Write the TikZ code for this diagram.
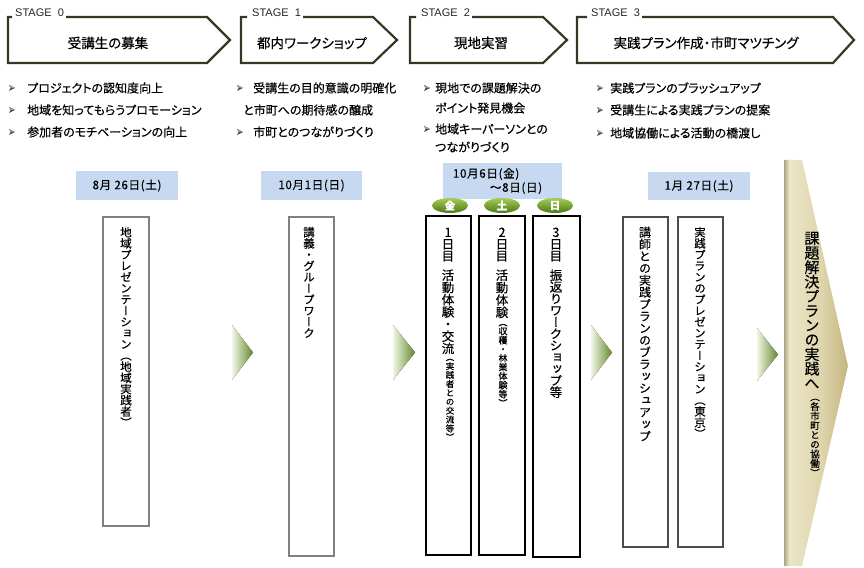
\documentclass[tikz,border=0pt]{standalone}
\usepackage{fontspec}
\usepackage{graphicx}
\setmainfont{Noto Sans CJK JP}[Script=CJK,RawFeature=+palt,FakeBold=0.4]
\newfontfamily\vjp{Noto Sans CJK JP}[Script=CJK,RawFeature=+vert,FakeBold=0.4]
\newfontfamily\arialf{Liberation Sans}
\usetikzlibrary{shapes.geometric}
\definecolor{bannercol}{RGB}{58,54,38}
\definecolor{datecol}{RGB}{198,217,241}
\definecolor{grayline}{RGB}{128,128,128}
\definecolor{chevL}{RGB}{242,246,230}
\definecolor{chevR}{RGB}{100,136,44}
\definecolor{ovalT}{RGB}{165,204,85}
\definecolor{ovalB}{RGB}{78,122,22}
\definecolor{gL}{RGB}{170,163,135}
\definecolor{gM}{RGB}{236,230,200}
\definecolor{gR1}{RGB}{222,212,172}
\definecolor{gR}{RGB}{196,180,125}
\pgfdeclarehorizontalshading{goldsh}{100bp}{color(0bp)=(gL); color(25bp)=(gL); color(29bp)=(gM); color(55bp)=(gR1); color(75bp)=(gR); color(100bp)=(gR)}
\ExplSyntaxOn
\NewDocumentCommand\vchars{m}{
  \tl_map_inline:nn {#1} { \hbox_to_wd:nn {1.2em} { \hfil \vrule ~ width ~ 0pt ~ height ~ .88em ~ depth ~ .12em \relax ##1 \hfil } }
}
\ExplSyntaxOff
\newcommand\vt[3]{\vbox{\vjp\fontsize{#1}{#2}\selectfont\lineskiplimit=-100pt\relax\vchars{#3}}}
\begin{document}
\begin{tikzpicture}[x=1bp,y=-1bp,
  banner/.style={draw=bannercol, line width=2.2bp, line join=miter},
  stagelbl/.style={font=\arialf\fontsize{11bp}{12bp}\selectfont, inner xsep=2bp, inner ysep=0pt, anchor=west, text=black!85},
  stitle/.style={font=\fontsize{13.5bp}{15bp}\selectfont, inner sep=0},
  bul/.style={font=\fontsize{12bp}{14bp}\selectfont, anchor=west, inner sep=0},
  bulpic/.pic={\fill[black!70] (0,-3) -- (6,0) -- (0,3) -- (1.6,0) -- cycle;
               \fill[black!40] (0,-3) -- (6,0) -- (1.6,0) -- cycle;},
  datebox/.style={fill=datecol, inner sep=0, minimum height=29bp, font=\fontsize{11.5bp}{14bp}\selectfont\addfontfeatures{LetterSpace=6}},
  dayoval/.style={ellipse, minimum width=36bp, minimum height=15bp, inner sep=0, top color=ovalT, bottom color=ovalB, text=white, font=\bfseries\fontsize{10.5bp}{11bp}\selectfont},
  gbox/.style={draw=grayline, line width=1.3bp, inner sep=0},
  kbox/.style={draw=black, line width=1.8bp, inner sep=0},
  vtxt/.style={anchor=north, inner sep=0},
  chev/.style={left color=chevL, right color=chevR}
]
\useasboundingbox (0,0) rectangle (864,568);

% ---- stage banners ----
\node[stagelbl] (lbl0) at (13,12.5) {STAGE\ \ 0};
\draw[banner] (12,17) -- (8,17) -- (8,63) -- (207,63) -- (230,40) -- (207,17) -- (lbl0.east |- 0,17);
\node[stitle] (t0) at (108,43) {受講生の募集};

\node[stagelbl] (lbl1) at (250,12.5) {STAGE\ \ 1};
\draw[banner] (247,17) -- (241,17) -- (241,63) -- (373,63) -- (397,40) -- (373,17) -- (lbl1.east |- 0,17);
\node[stitle] (t1) at (312,43) {都内ワークショップ};

\node[stagelbl] (lbl2) at (419,12.5) {STAGE\ \ 2};
\draw[banner] (416,17) -- (410,17) -- (410,63) -- (543,63) -- (567,40) -- (543,17) -- (lbl2.east |- 0,17);
\node[stitle] (t2) at (481,43) {現地実習};

\node[stagelbl] (lbl3) at (589,12.5) {STAGE\ \ 3};
\draw[banner] (587,17) -- (577,17) -- (577,63) -- (833,63) -- (854,40) -- (833,17) -- (lbl3.east |- 0,17);
\node[stitle] (t3) at (706,43) {実践プラン作成・市町マツチング};

% ---- bullets ----
\pic at (9,88) {bulpic};
\node[bul] (b01) at (27,88) {プロジェクトの認知度向上};
\pic at (9,110) {bulpic};
\node[bul] (b02) at (27,110) {地域を知ってもらうプロモーション};
\pic at (9,132) {bulpic};
\node[bul] (b03) at (27,132) {参加者のモチベーションの向上};

\pic at (237,88) {bulpic};
\node[bul] (b11) at (253,88) {受講生の目的意識の明確化};
\node[bul] (b12) at (243,110) {と市町への期待感の醸成};
\pic at (237,132) {bulpic};
\node[bul] (b13) at (253,132) {市町とのつながりづくり};

\pic at (424,88) {bulpic};
\node[bul] (b21) at (435,88) {現地での課題解決の};
\node[bul] (b22) at (435,108) {ポイント発見機会};
\pic at (424,129) {bulpic};
\node[bul] (b23) at (435,129) {地域キーパーソンとの};
\node[bul] (b24) at (435,147) {つながりづくり};

\pic at (597,88) {bulpic};
\node[bul] (b31) at (610,88) {実践プランのブラッシュアップ};
\pic at (597,110) {bulpic};
\node[bul] (b32) at (610,110) {受講生による実践プランの提案};
\pic at (597,133) {bulpic};
\node[bul] (b33) at (610,133) {地域協働による活動の橋渡し};

% ---- dates ----
\node[datebox, minimum width=102bp] (d0) at (127,185.5) {8月 26日(土)};
\node[datebox, minimum width=101bp] (d1) at (311.5,185.5) {10月1日(日)};
\node[datebox, minimum width=119bp, minimum height=36bp, text width=99bp, align=left] (d2) at (502.5,181) {10月6日(金)\\\hspace*{37bp}～8日(日)};
\node[datebox, minimum width=102bp, minimum height=28bp] (d3) at (699,186) {1月 27日(土)};

% ---- day ovals ----
\node[dayoval] (o1) at (450,205.5) {金};
\node[dayoval] (o2) at (502,205.5) {土};
\node[dayoval] (o3) at (555,205.5) {日};

% ---- vertical boxes ----
\node[gbox, minimum width=46bp, minimum height=309bp] (bA) at (126,371.5) {};
\node[gbox, minimum width=45bp, minimum height=339bp] (bB) at (311.5,386.5) {};
\node[kbox, minimum width=45bp, minimum height=339bp] (bC) at (448.5,385.5) {};
\node[kbox, minimum width=46bp, minimum height=339bp] (bD) at (502,385.5) {};
\node[kbox, minimum width=47bp, minimum height=341bp] (bE) at (556.5,386.5) {};
\node[gbox, draw=black!70, minimum width=45bp, minimum height=330bp] (bF) at (645.5,382) {};
\node[gbox, draw=black!70, minimum width=45bp, minimum height=330bp] (bG) at (700.5,382) {};

\node[vtxt] (tA) at (126,226.25) {\vt{11.5bp}{11.2bp}{地域プレゼンテーション（地域実践者）}};
\node[vtxt] (tB) at (309,226.25) {\vt{11.5bp}{11.2bp}{講義・グループワーク}};
\node[vtxt] (tC1) at (448,225.75) {\vt{12.5bp}{11.8bp}{1日目}};
\node[vtxt] (tC2) at (448,268.75) {\vt{12.5bp}{12.2bp}{活動体験・交流}};
\node[vtxt] (tC3) at (450,352.75) {\vt{8.5bp}{8.9bp}{（実践者との交流等）}};
\node[vtxt] (tD1) at (502,225.75) {\vt{12.5bp}{11.8bp}{2日目}};
\node[vtxt] (tD2) at (502,268.75) {\vt{12.5bp}{12.4bp}{活動体験}};
\node[vtxt] (tD3) at (503,317.5) {\vt{9bp}{9bp}{（収穫・林業体験等）}};
\node[vtxt] (tE1) at (556,225.75) {\vt{12.5bp}{11.8bp}{3日目}};
\node[vtxt] (tE2) at (556,268.75) {\vt{12.5bp}{11.7bp}{振返りワークショップ等}};
\node[vtxt] (tF) at (645,226) {\vt{12bp}{12bp}{講師との実践プランのブラッシュアップ}};
\node[vtxt] (tG) at (700,226.25) {\vt{11.5bp}{11.2bp}{実践プランのプレゼンテーション（東京）}};

% ---- chevrons ----
\fill[chev] (232,325) -- (253,352.5) -- (232,380) -- cycle;
\fill[chev] (393,325) -- (415,352.5) -- (393,380) -- cycle;
\fill[chev] (591,325) -- (612,352.5) -- (591,380) -- cycle;
\fill[chev] (757,328) -- (778,354.5) -- (757,381) -- cycle;

% ---- final arrow ----
\shade[shading=goldsh] (784,160) -- (802,160) -- (848,366) -- (802,566) -- (784,566) -- cycle;
\node[vtxt] (gt1) at (812,230.5) {\vt{15bp}{14.5bp}{課題解決プランの実践へ}};
\node[vtxt] (gt2) at (815,392) {\vt{9.5bp}{9.5bp}{（各市町との協働）}};
\end{tikzpicture}
\end{document}
